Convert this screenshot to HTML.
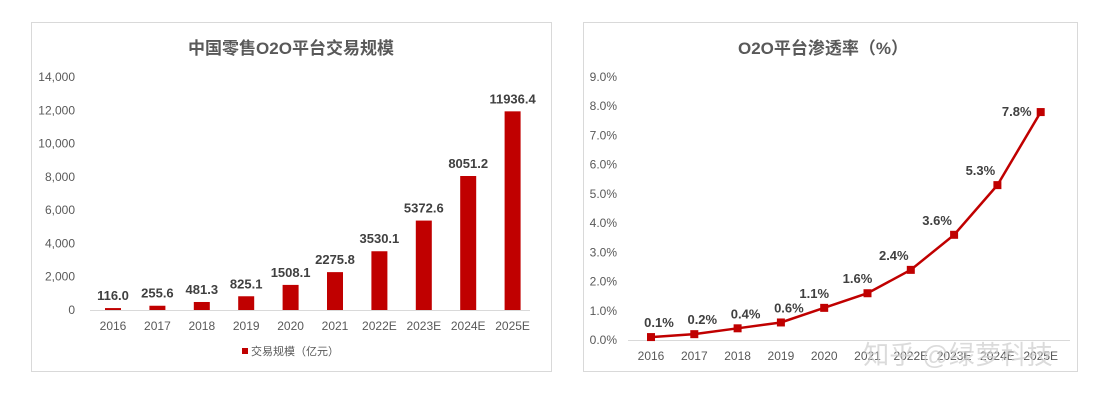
<!DOCTYPE html>
<html><head><meta charset="utf-8"><style>
body{margin:0;background:#fff;width:1104px;height:404px;overflow:hidden;font-family:"Liberation Sans","Noto Sans CJK SC",sans-serif}
svg text{font-family:"Liberation Sans","Noto Sans CJK SC",sans-serif}
</style></head><body>
<svg id="s" width="1104" height="404">
<rect x="31.5" y="22.5" width="520" height="349" fill="#fff" stroke="#d9d9d9"/>
<rect x="583.5" y="22.5" width="494" height="349" fill="#fff" stroke="#d9d9d9"/>
<text x="291" y="54" text-anchor="middle" font-size="17" font-weight="bold" fill="#595959">中国零售O2O平台交易规模</text>
<text x="823" y="54" text-anchor="middle" font-size="17" font-weight="bold" fill="#595959">O2O平台渗透率（%）</text>
<rect x="242" y="348" width="6" height="6" fill="#c00000"/>
<text x="251" y="355" font-size="11" fill="#595959">交易规模（亿元）</text>
<g id="L"></g><g id="R"></g>
<text x="958" y="364" text-anchor="middle" font-size="26" fill="#d0d0d0" opacity="0.75">知乎 @绿萝科技</text>
</svg>
<script>
const categories=["2016","2017","2018","2019","2020","2021","2022E","2023E","2024E","2025E"];
const volumeValues=[116.0,255.6,481.3,825.1,1508.1,2275.8,3530.1,5372.6,8051.2,11936.4];
const volumeTicks=[0,2000,4000,6000,8000,10000,12000,14000];
const rateValues=[0.1,0.2,0.4,0.6,1.1,1.6,2.4,3.6,5.3,7.8];
const rateTicks=[0,1,2,3,4,5,6,7,8,9];
const NS="http://www.w3.org/2000/svg";
function mk(p,t,a,txt){const e=document.createElementNS(NS,t);for(const k in a)e.setAttribute(k,a[k]);if(txt!==undefined)e.textContent=txt;p.appendChild(e);return e;}
// left
const L=document.getElementById('L');
const ly=v=>310-v*(233/14000), lx=i=>113+i*44.4;
volumeTicks.forEach(t=>{const e=mk(L,'text',{x:75,y:ly(t)+4,'text-anchor':'end','font-size':12,fill:'#595959'},t.toLocaleString('en-US'));

});
const la=mk(L,'line',{x1:90,x2:530,y1:310.5,y2:310.5,stroke:'#d9d9d9'});


categories.forEach((c,i)=>{
const b=mk(L,'rect',{x:lx(i)-8,y:ly(volumeValues[i]),width:16,height:310-ly(volumeValues[i]),fill:'#c00000'});


const v=mk(L,'text',{x:lx(i),y:ly(volumeValues[i])-8,'text-anchor':'middle','font-size':13,'font-weight':'bold',fill:'#404040'},volumeValues[i].toFixed(1));


const t=mk(L,'text',{x:lx(i),y:330,'text-anchor':'middle','font-size':12,fill:'#595959'},c);


});
// right
const R=document.getElementById('R');
const ry=v=>340-v*(263/9), rx=i=>651+i*43.3;
rateTicks.forEach(t=>{const e=mk(R,'text',{x:617,y:ry(t)+4,'text-anchor':'end','font-size':12,fill:'#595959'},t.toFixed(1)+'%');

});
const ra=mk(R,'line',{x1:628,x2:1070,y1:340.5,y2:340.5,stroke:'#d9d9d9'});


const pl=mk(R,'polyline',{points:rateValues.map((v,i)=>rx(i)+','+ry(v)).join(' '),fill:'none',stroke:'#c00000','stroke-width':2.5});


categories.forEach((c,i)=>{
const m=mk(R,'rect',{x:rx(i)-4,y:ry(rateValues[i])-4,width:8,height:8,fill:'#c00000'});


const dx=i<4?8:(i<6?-10:(i<9?-17:-24)), dy=i<9?-10:4;
const v=mk(R,'text',{x:rx(i)+dx,y:ry(rateValues[i])+dy,'text-anchor':'middle','font-size':13,'font-weight':'bold',fill:'#404040'},rateValues[i].toFixed(1)+'%');


const t=mk(R,'text',{x:rx(i),y:360,'text-anchor':'middle','font-size':12,fill:'#595959'},c);


});
</script>
</body></html>
